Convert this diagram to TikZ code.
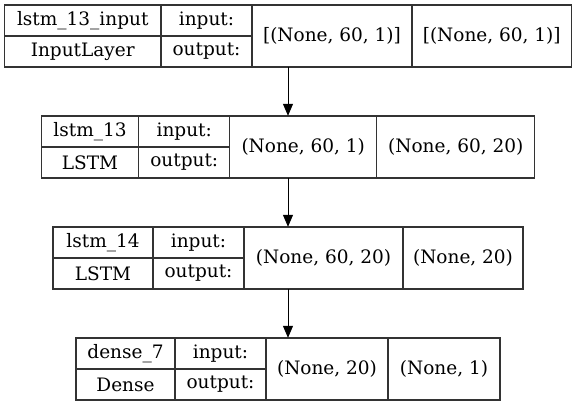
\documentclass[tikz,border=0pt]{standalone}
\usepackage{fontspec}
\setmainfont{DejaVu Serif}
\usetikzlibrary{arrows.meta,positioning,fit}
\begin{document}
\begin{tikzpicture}[
    x=1pt, y=-1pt,
    node distance=0pt,
    cell/.style={draw=black!80, line width=1.1pt, inner sep=0pt, outer sep=0pt,
                 minimum height=31pt, font=\fontsize{18.5}{22}\selectfont},
    tall/.style={cell, minimum height=62pt},
    arr/.style={-{Triangle[length=12pt, width=10pt]}, line width=1pt}
]
\useasboundingbox (0,0) rectangle (577,405);

% lstm_13_input
\node[cell, minimum width=156.5pt, anchor=north west] (n1) at (4.5,5) {lstm\_13\_input};
\node[cell, minimum width=156.5pt, below=of n1] (t1) {InputLayer};
\node[cell, minimum width=91pt, right=of n1] (i1) {input:};
\node[cell, minimum width=91pt, right=of t1] (o1) {output:};
\node[tall, minimum width=160pt, anchor=north west] (is1) at (i1.north east) {[(None, 60, 1)]};
\node[tall, minimum width=159.5pt, right=of is1] (os1) {[(None, 60, 1)]};
\node[fit=(n1)(os1), inner sep=0pt] (input) {};

% lstm_13
\node[cell, minimum width=97.5pt, anchor=north west] (n2) at (41.25,116) {lstm\_13};
\node[cell, minimum width=97.5pt, below=of n2] (t2) {LSTM};
\node[cell, minimum width=91pt, right=of n2] (i2) {input:};
\node[cell, minimum width=91pt, right=of t2] (o2) {output:};
\node[tall, minimum width=147pt, anchor=north west] (is2) at (i2.north east) {(None, 60, 1)};
\node[tall, minimum width=158pt, right=of is2] (os2) {(None, 60, 20)};
\node[fit=(n2)(os2), inner sep=0pt] (lstm13) {};

% lstm_14
\node[cell, minimum width=100pt, anchor=north west] (n3) at (53,227) {lstm\_14};
\node[cell, minimum width=100pt, below=of n3] (t3) {LSTM};
\node[cell, minimum width=91pt, right=of n3] (i3) {input:};
\node[cell, minimum width=91pt, right=of t3] (o3) {output:};
\node[tall, minimum width=159pt, anchor=north west] (is3) at (i3.north east) {(None, 60, 20)};
\node[tall, minimum width=120pt, right=of is3] (os3) {(None, 20)};
\node[fit=(n3)(os3), inner sep=0pt] (lstm14) {};

% dense_7
\node[cell, minimum width=99pt, anchor=north west] (n4) at (76,338) {dense\_7};
\node[cell, minimum width=99pt, below=of n4] (t4) {Dense};
\node[cell, minimum width=91pt, right=of n4] (i4) {input:};
\node[cell, minimum width=91pt, right=of t4] (o4) {output:};
\node[tall, minimum width=122pt, anchor=north west] (is4) at (i4.north east) {(None, 20)};
\node[tall, minimum width=112pt, right=of is4] (os4) {(None, 1)};
\node[fit=(n4)(os4), inner sep=0pt] (dense7) {};

\foreach \a/\b in {input/lstm13,lstm13/lstm14,lstm14/dense7}{
    \draw[arr] (\a) -- (\b);
}

\end{tikzpicture}
\end{document}
